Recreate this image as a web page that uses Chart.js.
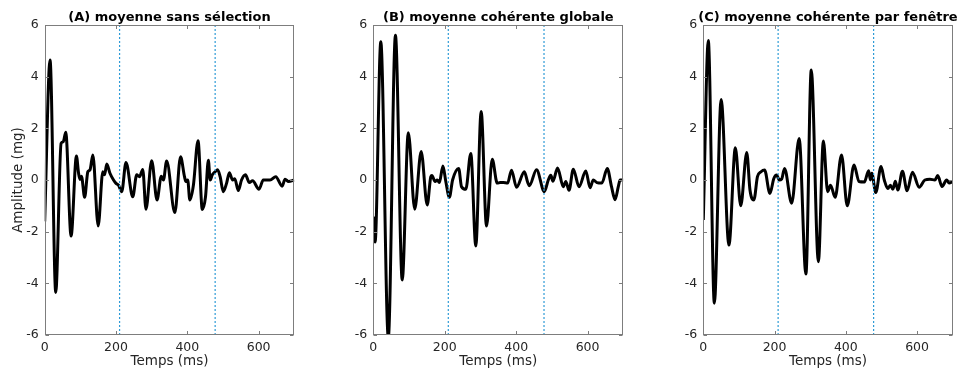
<!DOCTYPE html>
<html>
<head>
<meta charset="utf-8">
<script src="https://cdn.jsdelivr.net/npm/chart.js@4/dist/chart.umd.min.js"></script>
<style>
  html, body { margin: 0; padding: 0; background: #ffffff; }
  body { width: 962px; height: 374px; position: relative; overflow: hidden; }
  .panel { position: absolute; top: 0; }
</style>
</head>
<body>
<script>
// ---------- data ----------
const panelTitles = [
  "(A) moyenne sans sélection",
  "(B) moyenne cohérente globale",
  "(C) moyenne cohérente par fenêtre"
];
const xAxisLabel = "Temps (ms)";
const yAxisLabel = "Amplitude (mg)";
const xTicks = [0, 200, 400, 600];
const yTicks = [-6, -4, -2, 0, 2, 4, 6];
const markerTimes = [210, 478];

const timesA = [0,15,31,46,52,59,74,89,95,99,103,112,121,127,135,150,163,168,174,183,193,200,207,216,228,247,258,266,275,284,300,315,327,333,342,365,381,392,396,401,407,417,430,442,451,459,464,470,478,485,492,501,510,518,527,533,543,552,563,574,583,601,613,632,648,666,674,684,700];
const ampA   = [-1.6,4.65,-4.35,1.42,1.48,1.85,-2.17,0.93,0.26,0.02,0.15,-0.67,0.32,0.39,0.97,-1.78,0.32,0.2,0.62,0.26,0,-0.13,-0.2,-0.45,0.68,-0.65,0.2,0.13,0.41,-1.13,0.75,-0.77,0.15,0,0.74,-1.26,0.9,0.13,-0.06,0,-0.77,-0.2,1.52,-1.14,-0.65,0.76,0,0.2,0.32,0.4,0.13,-0.45,-0.13,0.28,0,0.05,-0.41,0,0.2,-0.1,-0.03,-0.36,0,0,0.13,-0.24,0.03,-0.06,0];

const timesB = [0,5,21,42,62,81,98,116,134,151,161,164,173,179,185,195,203,213,222,239,247,259,273,287,302,317,333,347,355,364,376,387,401,423,432,437,457,479,490,497,503,516,532,539,548,560,576,595,607,616,626,640,655,667,677,686,691,700];
const ampB   = [-1.42,-2.4,5.35,-6.1,5.6,-3.87,1.83,-1.13,1.1,-0.97,0.13,0.17,-0.06,0,-0.1,0.54,-0.06,-0.67,0,0.45,-0.26,-0.36,1.03,-2.55,2.65,-1.78,0.8,-0.12,-0.1,-0.1,-0.12,0.38,-0.28,0.32,-0.08,-0.22,0.4,-0.45,0,0.18,-0.05,0.46,-0.26,-0.06,-0.4,0.42,-0.26,0.35,-0.3,0,-0.1,-0.12,0.45,-0.26,-0.76,-0.26,0,0];

const timesC = [0,14,31,50,72,90,105,122,131,142,152,162,172,187,198,206,213,220,228,248,269,288,303,323,337,349,357,370,388,404,423,437,452,464,469,473,484,499,508,518,525,532,539,546,559,572,587,606,622,636,650,658,670,683,690,700];
const ampC   = [-1.55,5.4,-4.77,3.12,-2.52,1.25,-1.0,1.06,-0.39,-0.77,0.13,0.32,0.39,-0.52,0.06,0.19,0,0.04,0.45,-0.9,1.61,-3.64,4.26,-3.16,1.51,-0.45,-0.2,-0.67,0.97,-1.0,0.58,-0.06,-0.08,0.36,0,0.26,-0.48,0.52,0,-0.33,-0.2,-0.36,-0.05,-0.39,0.34,-0.42,0.3,-0.28,0,0.03,0,0.17,-0.25,0,-0.12,-0.06];

const seriesTimes = [timesA, timesB, timesC];
const seriesAmps = [ampA, ampB, ampC];

// ---------- layout / style ----------
const FONT = "'DejaVu Sans', 'Liberation Sans', sans-serif";
const panels = [
  { left: 0,   width: 300, plotLeft: 44.7,  plotRight: 294.3, yTitle: true },
  { left: 320, width: 310, plotLeft: 373.3, plotRight: 623.3, yTitle: false },
  { left: 650, width: 312, plotLeft: 703.3, plotRight: 952.7, yTitle: false }
];
const H = 374, PLOT_TOP = 25, PLOT_BOTTOM = 335;

const framePlugin = {
  id: 'frame',
  afterDraw(chart, args, opts) {
    const {ctx, chartArea: a, scales} = chart;
    ctx.save();
    ctx.strokeStyle = '#7d7d7d';
    ctx.lineWidth = 1;
    const L = Math.round(a.left) + 0.5, R = Math.round(a.right) - 0.5;
    const T = Math.round(a.top) + 0.5, B = Math.round(a.bottom) - 0.5;
    ctx.strokeRect(L, T, R - L, B - T);
    const tl = 3.5;
    ctx.beginPath();
    xTicks.forEach(v => {
      const px = Math.round(scales.x.getPixelForValue(v)) + 0.5;
      ctx.moveTo(px, B); ctx.lineTo(px, B - tl);
      ctx.moveTo(px, T); ctx.lineTo(px, T + tl);
    });
    yTicks.forEach(v => {
      const py = Math.round(scales.y.getPixelForValue(v)) + 0.5;
      ctx.moveTo(L, py); ctx.lineTo(L + tl, py);
      ctx.moveTo(R, py); ctx.lineTo(R - tl, py);
    });
    ctx.stroke();
    // panel title
    ctx.fillStyle = '#000000';
    ctx.font = "bold 13px " + FONT;
    ctx.textAlign = 'center';
    ctx.textBaseline = 'alphabetic';
    ctx.fillText(opts.text, (a.left + a.right) / 2, 20.5);
    ctx.restore();
  }
};

panels.forEach((p, i) => {
  const div = document.createElement('div');
  div.className = 'panel';
  div.style.left = p.left + 'px';
  div.style.width = p.width + 'px';
  div.style.height = H + 'px';
  const cv = document.createElement('canvas');
  cv.width = p.width; cv.height = H;
  cv.style.width = p.width + 'px'; cv.style.height = H + 'px';
  div.appendChild(cv);
  document.body.appendChild(div);

  const yAxisWidth = p.plotLeft - p.left;
  const rightPad = p.left + p.width - p.plotRight;
  const xAxisHeight = H - PLOT_BOTTOM;

  const datasets = markerTimes.map(t => ({
    data: [{x: t, y: yTicks[0]}, {x: t, y: yTicks[yTicks.length - 1]}],
    borderColor: '#2f9bd6',
    borderWidth: 1.2,
    borderDash: [2, 2],
    pointRadius: 0,
    tension: 0,
    clip: 0
  }));
  datasets.push({
    data: seriesTimes[i].map((t, k) => ({x: t, y: seriesAmps[i][k]})),
    borderColor: '#000000',
    borderWidth: 3,
    pointRadius: 0,
    cubicInterpolationMode: 'monotone',
    clip: 0
  });

  new Chart(cv, {
    type: 'line',
    data: { datasets },
    plugins: [framePlugin],
    options: {
      responsive: false,
      animation: false,
      devicePixelRatio: 1,
      layout: { padding: { top: PLOT_TOP, right: rightPad, bottom: 0, left: 0 } },
      plugins: {
        legend: { display: false },
        tooltip: { enabled: false },
        frame: { text: panelTitles[i] }
      },
      scales: {
        x: {
          type: 'linear',
          min: 0, max: 700,
          grid: { display: false, drawTicks: false },
          border: { display: false },
          afterBuildTicks: s => { s.ticks = xTicks.map(v => ({value: v})); },
          afterFit: s => { s.height = xAxisHeight; },
          ticks: { color: '#262626', font: { family: FONT, size: 12.5 }, padding: 5, maxRotation: 0 },
          title: {
            display: true, text: xAxisLabel, color: '#262626',
            font: { family: FONT, size: 13.5 }, padding: { top: 0, bottom: 4 }
          }
        },
        y: {
          type: 'linear',
          min: -6, max: 6,
          grid: { display: false, drawTicks: false },
          border: { display: false },
          afterBuildTicks: s => { s.ticks = yTicks.map(v => ({value: v})); },
          afterFit: s => { s.width = yAxisWidth; },
          ticks: { color: '#262626', font: { family: FONT, size: 12.5 }, padding: 6 },
          title: {
            display: p.yTitle, text: yAxisLabel, color: '#262626',
            font: { family: FONT, size: 13.5 }, padding: { top: 10.5, bottom: 0 }
          }
        }
      }
    }
  });
});
</script>
</body>
</html>
